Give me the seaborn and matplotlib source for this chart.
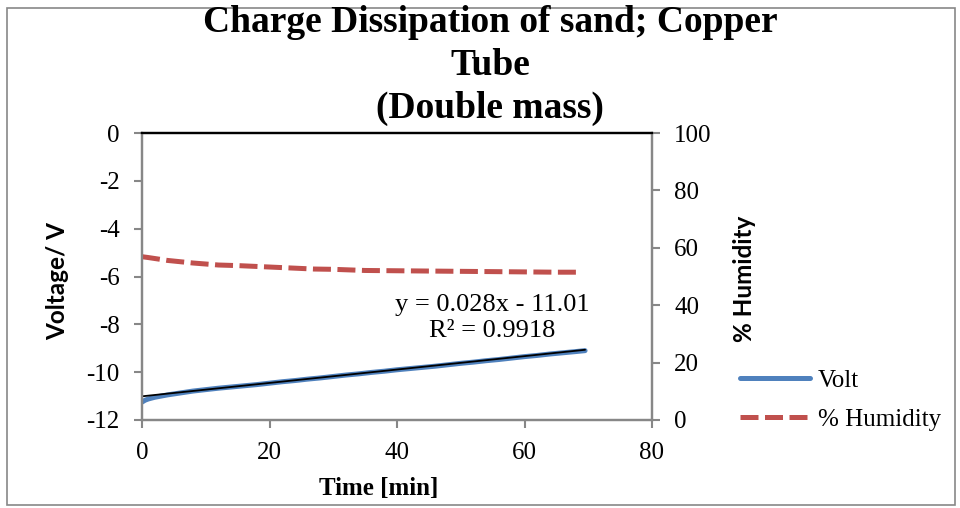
import numpy as np
import pandas as pd
import matplotlib
matplotlib.use("Agg")
import matplotlib.pyplot as plt
from matplotlib.lines import Line2D
from matplotlib.patches import Rectangle
import seaborn as sns

# ---- data ----
volt_time = [0, 0.5, 1, 2, 4, 6, 8, 10, 12, 14, 16, 18, 20, 22, 24, 26, 28, 30, 32, 34,
             36, 38, 40, 42, 44, 46, 48, 50, 52, 54, 56, 58, 60, 62, 64, 66, 68, 69.5]
volt_values = [-11.25, -11.17, -11.12, -11.05, -10.95, -10.87, -10.79, -10.73, -10.67, -10.62,
               -10.57, -10.52, -10.46, -10.40, -10.35, -10.29, -10.24, -10.18, -10.12, -10.07,
               -10.01, -9.96, -9.90, -9.85, -9.80, -9.75, -9.69, -9.63, -9.58, -9.52,
               -9.47, -9.41, -9.35, -9.30, -9.24, -9.19, -9.14, -9.10]
hum_time = [0, 1, 4, 8, 12, 15, 19, 23, 27, 30, 35, 40, 45, 50, 55, 60, 65, 69]
hum_values = [56.9, 56.6, 55.6, 54.7, 54.0, 53.8, 53.4, 53.0, 52.6, 52.5, 52.1, 52.0,
              51.9, 51.8, 51.7, 51.6, 51.5, 51.5]
trend_slope = 0.028
trend_intercept = -11.01
trend_r2 = 0.9918
trend_range = [0, 69.5]

title = "Charge Dissipation of sand; Copper\nTube\n(Double mass)"
x_label = "Time [min]"
y_label = "Voltage/ V"
y2_label = "% Humidity"
series_names = ["Volt", "% Humidity"]
x_ticks = [0, 20, 40, 60, 80]
y_ticks = [0, -2, -4, -6, -8, -10, -12]
y2_ticks = [0, 20, 40, 60, 80, 100]

# ---- styling ----
sns.set_theme(style="white")
plt.rcParams["font.family"] = ["Liberation Serif", "DejaVu Serif"]
plt.rcParams["axes.unicode_minus"] = False
plt.rcParams["text.color"] = "black"
plt.rcParams["xtick.color"] = "black"
plt.rcParams["ytick.color"] = "black"
BLUE = "#4F81BD"
RED = "#C0504D"
GRAY = "#878787"

fig = plt.figure(figsize=(9.6, 5.08), dpi=100)
W, H = 960, 508
ax = fig.add_axes([142 / W, (H - 420) / H, 510 / W, 287 / H])
ax2 = ax.twinx()

volt_df = pd.DataFrame({"t": volt_time, "v": volt_values})
hum_df = pd.DataFrame({"t": hum_time, "h": hum_values})

sns.lineplot(data=volt_df, x="t", y="v", ax=ax, color=BLUE, lw=3.6, legend=False)
tx = np.array(trend_range)
trend_df = pd.DataFrame({"t": tx, "v": trend_slope * tx + trend_intercept})
sns.lineplot(data=trend_df, x="t", y="v", ax=ax, color="black", lw=1.3, legend=False)
sns.lineplot(data=hum_df, x="t", y="h", ax=ax2, color=RED, lw=3.6,
             linestyle=(0, (3.6, 1.3)), legend=False)

ax.set_xlim(0, 80)
ax.set_ylim(-12, 0)
ax2.set_ylim(0, 100)
ax.set_xticks(x_ticks)
ax.set_yticks(y_ticks)
ax2.set_yticks(y2_ticks)
ax.set_xlabel("")
ax.set_ylabel("")
ax2.set_ylabel("")

for a in (ax, ax2):
    for s in a.spines.values():
        s.set_color(GRAY)
        s.set_linewidth(1.6)
    a.spines["top"].set_color("black")
    a.spines["top"].set_linewidth(1.6)
    a.tick_params(direction="out", length=6, width=1.5, color=GRAY,
                  labelsize=18, pad=10, labelcolor="black")
ax.tick_params(axis="x", bottom=True)
ax.tick_params(axis="y", left=True)
ax2.tick_params(axis="y", right=True)
ax.grid(False)
ax2.grid(False)

# labels
fig.text(379 / W, 1 - 488 / H, x_label, ha="center", va="center",
         fontsize=18, fontweight="bold", color="black")
fig.text(58 / W, 1 - 281 / H, y_label, ha="center", va="center", rotation=90,
         fontsize=17.5, fontweight="bold", family=["Lato", "DejaVu Sans"], color="black")
fig.text(744 / W, 1 - 279 / H, y2_label, ha="center", va="center", rotation=90,
         fontsize=17.5, fontweight="bold", family=["Lato", "DejaVu Sans"], color="black")

# title
fig.text(490 / W, 1 - 5 / H, title, ha="center", va="top", fontsize=27,
         fontweight="bold", linespacing=1.3, color="black")

# trendline annotation
eq = f"y = {trend_slope}x - {abs(trend_intercept)}\nR² = {trend_r2}"
fig.text(492 / W, 1 - 318 / H, eq, ha="center", va="center", fontsize=19,
         linespacing=1.25, color="black")

# legend
handles = [Line2D([0], [0], color=BLUE, lw=3.6),
           Line2D([0], [0], color=RED, lw=3.6, linestyle=(0, (3.6, 1.3)))]
leg = fig.legend(handles, series_names, loc="center left",
                 bbox_to_anchor=(740 / W, 1 - 400 / H), frameon=False, fontsize=18,
                 handlelength=2.8, handletextpad=0.3, labelspacing=0.65,
                 borderpad=0, borderaxespad=0)
for t in leg.get_texts():
    t.set_color("black")

# chart border
fig.add_artist(Rectangle((7 / W, 1 - 505 / H), 948 / W, 497 / H,
                         transform=fig.transFigure, fill=False,
                         edgecolor=GRAY, lw=1.2))

fig.savefig("out.png", dpi=100)
